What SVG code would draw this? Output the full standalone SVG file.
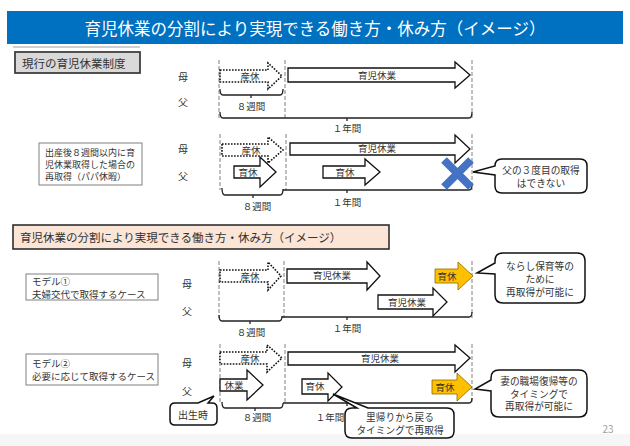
<svg xmlns="http://www.w3.org/2000/svg" width="630" height="446" viewBox="0 0 630 446">
<style>
text{font-family:"Noto Sans CJK JP","Noto Sans",sans-serif;fill:#333;dominant-baseline:central}
.c{text-anchor:middle}
.dash{stroke:#808080;stroke-width:1;stroke-dasharray:4 2;fill:none}
.brace{fill:none;stroke:#222;stroke-width:1.3}
.arr{fill:#fff;stroke:#111;stroke-width:1.3}
.dot{fill:#fff;stroke:#111;stroke-width:1.6;stroke-dasharray:1.6 1.4}
.org{fill:#FFC000;stroke:#8a6a00;stroke-width:0.8}
.call{fill:#fff;stroke:#111;stroke-width:1.5}
.box{fill:#fff;stroke:#808080;stroke-width:1}
.t9{font-size:9.5px}
.t10{font-size:10px}
.tc{font-size:9.7px}
.tm{font-size:9.5px}
</style>
<rect width="630" height="446" fill="#fff"/>
<rect x="0" y="434" width="630" height="12" fill="#f6f6f6"/>
<g id="title">
<rect x="7" y="11" width="616" height="33" fill="#0070C0"/>
<text x="315" y="28" class="c" style="font-size:16.5px;fill:#fff">育児休業の分割により実現できる働き方・休み方（イメージ）</text>
<line x1="13" y1="47" x2="140" y2="47" stroke="#a0a0a0" stroke-width="1"/>
</g>
<g id="connectors">
<path class="dash" d="M219,60V118M285,60V118M472,60V118"/>
<path class="dash" d="M220,134V190M286,134V190M472,134V190"/>
<path class="dash" d="M219,261V318M284,261V318M472,261V318"/>
<path class="dash" d="M220,344V404M285,344V404M472,344V404"/>
<path class="brace" d="M220,89Q220,95 223,95H280Q283,95 283,89M251,95V98"/>
<path class="brace" d="M220,112Q220,118 223,118H469Q472,118 472,112M347,118V121"/>
<path class="brace" d="M222,188Q222,195 225,195H280Q283,195 283,189M253,195V198"/>
<path class="brace" d="M283,190H469Q472,190 472,185M347,190V193"/>
<path class="brace" d="M219,315Q219,321 222,321H279Q282,321 282,316M250,321V324"/>
<path class="brace" d="M282,317H469Q472,317 472,312M347,317V320"/>
<path class="brace" d="M222,402Q222,408 225,408H280Q283,408 283,403M255,408V411"/>
<path class="brace" d="M283,403H469Q472,403 472,398M347,403V406"/>
</g>
<g id="section1">
<rect x="15" y="52" width="125" height="21" fill="#D9D9D9" stroke="#404040" stroke-width="1.8"/>
<text x="22" y="63" style="font-size:11.5px">現行の育児休業制度</text>
<text x="183" y="76" class="c t10">母</text>
<text x="183" y="101" class="c t10">父</text>
<g id="s1-sankyu"><path class="dot" d="M220,70H268V63L282,76L268,89V82H220Z"/><text x="250" y="76" class="c t9">産休</text></g>
<g id="s1-ikuji"><path class="arr" d="M288,68H455V62L470,75L455,88V82H288Z"/><text x="377" y="75" class="c t9">育児休業</text></g>
<text x="251" y="106" class="c t9">８週間</text>
<text x="347" y="128" class="c t9">１年間</text>
</g>
<g id="section2">
<rect class="box" x="39" y="143" width="103" height="42"/>
<text style="font-size:9px"><tspan x="45" y="152">出産後８週間以内に育</tspan><tspan x="45" y="164">児休業取得した場合の</tspan><tspan x="45" y="176">再取得（パパ休暇）</tspan></text>
<text x="183" y="148" class="c t10">母</text>
<text x="183" y="175" class="c t10">父</text>
<g id="s2-sankyu"><path class="dot" d="M222,144H268V137L283,150L268,163V156H222Z"/><text x="251" y="150" class="c t9">産休</text></g>
<g id="s2-ikuji"><path class="arr" d="M290,143H455V135L470,149L455,163V155H290Z"/><text x="377" y="148" class="c t9">育児休業</text></g>
<g id="s2-ikukyu1"><path class="arr" d="M234,166H260V157L276,172L260,187V178H234Z"/><text x="248" y="172" class="c t9">育休</text></g>
<g id="s2-ikukyu2"><path class="arr" d="M323,166H365V159L380,172L365,185V178H323Z"/><text x="345" y="172" class="c t9">育休</text></g>
<g id="s2-cross"><path d="M444,160L471,187M471,160L444,187" stroke="#4472C4" stroke-width="8"/></g>
<g id="s2-callout"><path class="call" d="M502,159H580Q587,159 587,166V186Q587,193 580,193H502Q495,193 495,186V175L473,172L495,166Q495,159 502,159Z"/>
<text class="c tc"><tspan x="541" y="169.5">父の３度目の取得</tspan><tspan x="541" y="182.5">はできない</tspan></text></g>
<text x="257" y="206" class="c t9">８週間</text>
<text x="347" y="202" class="c t9">１年間</text>
</g>
<g id="header2">
<rect x="13" y="225" width="376" height="24" fill="#FBE5D6" stroke="#222" stroke-width="1.5"/>
<text x="20" y="237" style="font-size:11.5px">育児休業の分割により実現できる働き方・休み方（イメージ）</text>
</g>
<g id="model1">
<rect class="box" x="26" y="274" width="132" height="26"/>
<text class="tm"><tspan x="32" y="280.5">モデル①</tspan><tspan x="32" y="293.5">夫婦交代で取得するケース</tspan></text>
<text x="187" y="283" class="c t10">母</text>
<text x="187" y="310" class="c t10">父</text>
<g id="m1-sankyu"><path class="dot" d="M220,270H268V262L281,276L268,290V282H220Z"/><text x="250" y="276" class="c t9">産休</text></g>
<g id="m1-ikuji-m"><path class="arr" d="M287,269H367V262L380,276L367,290V283H287Z"/><text x="332" y="275" class="c t9">育児休業</text></g>
<g id="m1-ikukyu"><path class="org" d="M435,269H458V262L473,276L458,290V283H435Z"/><text x="447" y="276" class="c t9">育休</text></g>
<g id="m1-ikuji-f"><path class="arr" d="M378,295H433V288L447,302L433,316V309H378Z"/><text x="407" y="302" class="c t9">育児休業</text></g>
<g id="m1-callout"><path class="call" d="M503,253H577Q585,253 585,261V295Q585,303 577,303H503Q495,303 495,295V274L477,273L495,263V261Q495,253 503,253Z"/>
<text class="c tc"><tspan x="540" y="265.5">ならし保育等の</tspan><tspan x="540" y="278.5">ために</tspan><tspan x="540" y="291.5">再取得が可能に</tspan></text></g>
<text x="251" y="332" class="c t9">８週間</text>
<text x="347" y="328" class="c t9">１年間</text>
</g>
<g id="model2">
<rect class="box" x="26" y="354" width="132" height="31"/>
<text class="tm"><tspan x="32" y="363">モデル②</tspan><tspan x="32" y="376">必要に応じて取得するケース</tspan></text>
<text x="187" y="362" class="c t10">母</text>
<text x="187" y="390" class="c t10">父</text>
<g id="m2-sankyu"><path class="dot" d="M220,352H267V345L282,358L267,372V364H220Z"/><text x="250" y="358" class="c t9">産休</text></g>
<g id="m2-ikuji"><path class="arr" d="M288,352H455V345L470,358L455,372V365H288Z"/><text x="380" y="358" class="c t9">育児休業</text></g>
<g id="m2-kyugyo"><path class="arr" d="M220,379H247V370L263,385L247,400V391H220Z"/><text x="234" y="385" class="c t9">休業</text></g>
<g id="m2-ikukyu1"><path class="arr" d="M302,379H328V373L342,387L328,401V394H302Z"/><text x="315" y="386" class="c t9">育休</text></g>
<g id="m2-ikukyu2"><path class="org" d="M432,380H457V373L472,387L457,401V394H432Z"/><text x="445" y="387" class="c t9">育休</text></g>
<g id="m2-birth"><path class="call" d="M175,403H198L214,396L208,403H212Q217,403 217,408V420Q217,425 212,425H175Q170,425 170,420V408Q170,403 175,403Z"/>
<text x="193" y="414" class="c t10">出生時</text></g>
<g id="m2-satogaeri"><path class="call" d="M352,408H357L333,394L368,408H447Q454,408 454,415V431Q454,438 447,438H352Q345,438 345,431V415Q345,408 352,408Z"/>
<text class="c tc"><tspan x="400" y="417">里帰りから戻る</tspan><tspan x="400" y="429.5">タイミングで再取得</tspan></text></g>
<g id="m2-callout"><path class="call" d="M499,370H579Q587,370 587,378V409Q587,417 579,417H499Q491,417 491,409V391L475,389L491,380V378Q491,370 499,370Z"/>
<text class="c tc"><tspan x="539" y="381">妻の職場復帰等の</tspan><tspan x="539" y="393.5">タイミングで</tspan><tspan x="539" y="406">再取得が可能に</tspan></text></g>
<text x="257" y="417" class="c t9">８週間</text>
<text x="330" y="417" class="c t9">１年間</text>
</g>
<text x="608" y="428" class="c" style="font-size:10px;fill:#a0a0a0">23</text>
</svg>
